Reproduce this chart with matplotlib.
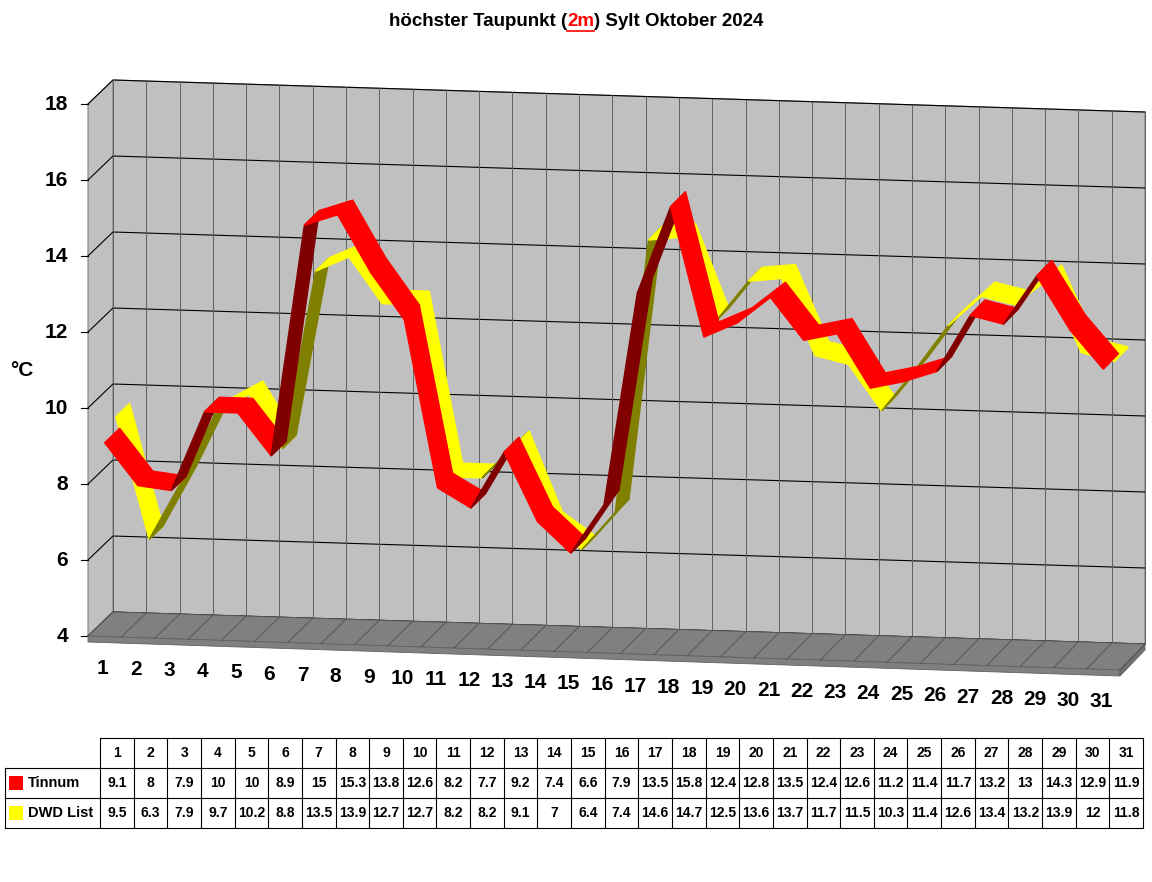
import numpy as np
import matplotlib
matplotlib.use("Agg")
import matplotlib.pyplot as plt
from matplotlib.patches import Polygon, Rectangle

days = [str(d) for d in range(1, 32)]
tinnum = [9.1, 8, 7.9, 10, 10, 8.9, 15, 15.3, 13.8, 12.6, 8.2, 7.7, 9.2, 7.4, 6.6, 7.9,
          13.5, 15.8, 12.4, 12.8, 13.5, 12.4, 12.6, 11.2, 11.4, 11.7, 13.2, 13, 14.3, 12.9, 11.9]
dwd = [9.5, 6.3, 7.9, 9.7, 10.2, 8.8, 13.5, 13.9, 12.7, 12.7, 8.2, 8.2, 9.1, 7, 6.4, 7.4,
       14.6, 14.7, 12.5, 13.6, 13.7, 11.7, 11.5, 10.3, 11.4, 12.6, 13.4, 13.2, 13.9, 12, 11.8]
y_ticks = [4, 6, 8, 10, 12, 14, 16, 18]
VMIN, VMAX = 4, 18
N = len(days)

plt.rcParams['font.family'] = ['Liberation Sans', 'DejaVu Sans']
fig = plt.figure(figsize=(11.52, 8.82), dpi=100)
ax = fig.add_axes([0, 0, 1, 1])
ax.set_xlim(0, 1152)
ax.set_ylim(882, 0)
ax.axis("off")


def P(t, v, d):
    """pseudo-3D projection: t across categories, v value, d depth (0 front, 1 back)"""
    x = 88 + t * 1032 + d * 25
    yf = 636 + t * 34 - d * (24 + 2 * t)
    return x, yf - (v - VMIN) * 38.0


# walls
ax.add_patch(Polygon([P(0, 4, 1), P(1, 4, 1), P(1, 18, 1), P(0, 18, 1)],
                     fc="#c0c0c0", ec="#808080", lw=0.8, zorder=1))
ax.add_patch(Polygon([P(0, 4, 0), P(0, 4, 1), P(0, 18, 1), P(0, 18, 0)],
                     fc="#c0c0c0", ec="#808080", lw=0.8, zorder=1))
for v in y_ticks:
    xs, ys = zip(P(0, v, 0), P(0, v, 1), P(1, v, 1))
    ax.plot(xs, ys, color="black", lw=0.8, zorder=2)
    x0, y0 = P(0, v, 0)
    ax.plot([x0 - 7, x0], [y0, y0], color="black", lw=0.8, zorder=2)
    ax.text(x0 - 20, y0, str(v), ha="right", va="center", fontsize=15, fontweight="bold")
for k in range(N + 1):
    xs, ys = zip(P(k / N, 4, 1), P(k / N, 18, 1))
    ax.plot(xs, ys, color="#606060", lw=0.7, zorder=2)

# floor
slab = 6
fl = [P(0, 4, 0), P(1, 4, 0), P(1, 4, 1), P(0, 4, 1)]
ax.add_patch(Polygon(fl, fc="#808080", ec="#606060", lw=0.6, zorder=3))
(a, b), (c, d_) = P(0, 4, 0), P(1, 4, 0)
(e, f) = P(1, 4, 1)
ax.add_patch(Polygon([(a, b), (c, d_), (c, d_ + slab), (a, b + slab)], fc="#808080", ec="#606060", lw=0.6, zorder=3))
ax.add_patch(Polygon([(c, d_), (e, f), (e, f + slab), (c, d_ + slab)], fc="#707070", ec="#606060", lw=0.6, zorder=3))
for k in range(N + 1):
    xs, ys = zip(P(k / N, 4, 0), P(k / N, 4, 1))
    ax.plot(xs, ys, color="#505050", lw=0.6, zorder=3)

# x labels
for i, lab in enumerate(days):
    x, y = P((i + 0.5) / N, 4, 0)
    ax.text(x - 2, y + 32, lab, ha="center", va="center", fontsize=15, fontweight="bold")

ax.text(22, 370, "°C", ha="center", va="center", fontsize=15, fontweight="bold")


def area(pts):
    pts = np.asarray(pts)
    x, y = pts[:, 0], pts[:, 1]
    return 0.5 * np.sum(x * np.roll(y, -1) - np.roll(x, -1) * y)


def ribbon(vals, d1, d2, col, dark, z):
    ref = np.sign(area([P(0, 5, d1), P(0.1, 5, d1), P(0.1, 5, d2), P(0, 5, d2)]))
    for i in range(N - 1):
        t0, t1 = (i + 0.5) / N, (i + 1.5) / N
        q = [P(t0, vals[i], d1), P(t1, vals[i + 1], d1), P(t1, vals[i + 1], d2), P(t0, vals[i], d2)]
        fc = col if np.sign(area(q)) == ref else dark
        ax.add_patch(Polygon(q, fc=fc, ec=fc, lw=1.0, zorder=z))


ribbon(dwd, 0.45, 1.0, "#ffff00", "#808000", 4)
ribbon(tinnum, 0.0, 0.6, "#ff0000", "#800000", 5)

# title with red underlined "2m"
parts = [("höchster Taupunkt (", "black"), ("2m", "red"), (") Sylt Oktober 2024", "black")]
fig.canvas.draw()
r = fig.canvas.get_renderer()
texts, widths = [], []
for s, c in parts:
    t = ax.text(0, 22, s, fontsize=13.5, fontweight="bold", color=c, va="center", ha="left")
    texts.append(t)
    widths.append(t.get_window_extent(r).width)
x = 576 - sum(widths) / 2
for t, w in zip(texts, widths):
    t.set_x(x)
    if t.get_color() == "red":
        ax.plot([x, x + w], [31, 31], color="red", lw=1.2)
    x += w

# data table
x0t, cw = 100, (1143 - 100) / N
rows = [738, 768, 798, 828]
lc = "black"
ax.plot([x0t, x0t + N * cw], [rows[0]] * 2, color=lc, lw=0.8)
for yy in rows[1:]:
    ax.plot([5, x0t + N * cw], [yy] * 2, color=lc, lw=0.8)
ax.plot([5, 5], [rows[1], rows[3]], color=lc, lw=0.8)
for k in range(N + 1):
    ax.plot([x0t + k * cw] * 2, [rows[0], rows[3]], color=lc, lw=0.8)
for i in range(N):
    cx = x0t + (i + 0.5) * cw
    ax.text(cx, 753, days[i], ha="center", va="center", fontsize=10, fontweight="bold")
    ax.text(cx, 783, f"{tinnum[i]:g}", ha="center", va="center", fontsize=10, fontweight="bold")
    ax.text(cx, 813, f"{dwd[i]:g}", ha="center", va="center", fontsize=10, fontweight="bold")
for yc, lab, col in [(783, "Tinnum", "#ff0000"), (813, "DWD List", "#ffff00")]:
    ax.add_patch(Rectangle((9, yc - 7), 14, 14, fc=col, ec="none"))
    ax.text(28, yc, lab, ha="left", va="center", fontsize=10.5, fontweight="bold")

fig.savefig("out.png", dpi=100)
